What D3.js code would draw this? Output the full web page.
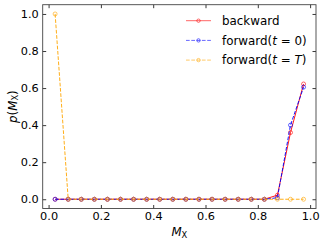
<!DOCTYPE html>
<meta charset="utf-8">
<style>
  body { margin: 0; background: #fff; }
  text { font-family: "DejaVu Sans", sans-serif; fill: #000; }
</style>
<svg width="324" height="243"></svg>
<script src="https://cdn.jsdelivr.net/npm/d3@7/dist/d3.min.js"></script>
<script>
const xs = [0.025, 0.075, 0.125, 0.175, 0.225, 0.275, 0.325, 0.375, 0.425, 0.475,
            0.525, 0.575, 0.625, 0.675, 0.725, 0.775, 0.825, 0.875, 0.925, 0.975];
const backward = [0, 0, 0, 0, 0, 0, 0, 0, 0, 0, 0, 0, 0, 0, 0, 0, 0, 0.022, 0.36, 0.622];
const forward0 = [0, 0, 0, 0, 0, 0, 0, 0, 0, 0, 0, 0, 0, 0, 0, 0, 0, 0.008, 0.40, 0.605];
const forwardT = [1, 0, 0, 0, 0, 0, 0, 0, 0, 0, 0, 0, 0, 0, 0, 0, 0, 0, 0, 0];
const xTicks = [0, 0.2, 0.4, 0.6, 0.8, 1.0];
const yTicks = [0, 0.2, 0.4, 0.6, 0.8, 1.0];

const series = [
  { name: "backward", vals: backward, color: "#ff0000", dash: null },
  { name: "forward0", vals: forward0, color: "#0000ff", dash: "3.7,1.6" },
  { name: "forwardT", vals: forwardT, color: "#ffa500", dash: "3.7,1.6" }
];

const svg = d3.select("svg");
const mLeft = 42.7, mRight = 316, mTop = 4.7, mBottom = 208.5;

const x = d3.scaleLinear().domain([-0.0225, 1.0225]).range([mLeft, mRight]);
const y = d3.scaleLinear().domain([-0.05, 1.05]).range([mBottom, mTop]);

const fs = 11.3;

// axes with inward ticks on all sides
svg.append("g").attr("transform", `translate(0,${mBottom})`)
  .call(d3.axisBottom(x).tickValues(xTicks).tickFormat(d3.format(".1f")).tickSizeInner(-3.5).tickSizeOuter(0).tickPadding(3))
  .call(g => g.select(".domain").remove());
svg.append("g").attr("transform", `translate(0,${mTop})`)
  .call(d3.axisTop(x).tickValues(xTicks).tickFormat("").tickSizeInner(-3.5).tickSizeOuter(0))
  .call(g => g.select(".domain").remove());
svg.append("g").attr("transform", `translate(${mLeft},0)`)
  .call(d3.axisLeft(y).tickValues(yTicks).tickFormat(d3.format(".1f")).tickSizeInner(-3.5).tickSizeOuter(0).tickPadding(4))
  .call(g => g.select(".domain").remove());
svg.append("g").attr("transform", `translate(${mRight},0)`)
  .call(d3.axisRight(y).tickValues(yTicks).tickFormat("").tickSizeInner(-3.5).tickSizeOuter(0))
  .call(g => g.select(".domain").remove());

svg.selectAll(".tick text").attr("font-size", fs).attr("font-family", "DejaVu Sans").attr("fill", "#222");
svg.selectAll(".tick line").attr("stroke", "#222").attr("stroke-width", 0.9);

svg.append("rect")
  .attr("x", mLeft).attr("y", mTop)
  .attr("width", mRight - mLeft).attr("height", mBottom - mTop)
  .attr("fill", "none").attr("stroke", "#444").attr("stroke-width", 0.9);

// lines and markers
const line = d3.line().x((d, i) => x(xs[i])).y(d => y(d));
series.forEach(s => {
  const g = svg.append("g");
  g.append("path")
    .datum(s.vals)
    .attr("d", line)
    .attr("fill", "none")
    .attr("stroke", s.color)
    .attr("stroke-width", 1)
    .attr("stroke-opacity", 0.9)
    .attr("stroke-dasharray", s.dash);
  g.selectAll("circle")
    .data(s.vals)
    .enter().append("circle")
    .attr("cx", (d, i) => x(xs[i]))
    .attr("cy", d => y(d))
    .attr("r", 2)
    .attr("fill", "none")
    .attr("stroke", s.color)
    .attr("stroke-width", 0.8)
    .attr("stroke-opacity", 0.75);
});

// legend
const legend = svg.append("g");
const labels = [
  t => t.text("backward"),
  t => { t.append("tspan").text("forward("); t.append("tspan").attr("font-style", "italic").text("t"); t.append("tspan").text(" = 0)"); },
  t => { t.append("tspan").text("forward("); t.append("tspan").attr("font-style", "italic").text("t"); t.append("tspan").text(" = "); t.append("tspan").attr("font-style", "italic").text("T"); t.append("tspan").text(")"); }
];
series.forEach((s, i) => {
  const ly = 20.7 + i * 19.7;
  legend.append("line")
    .attr("x1", 186).attr("x2", 211).attr("y1", ly).attr("y2", ly)
    .attr("stroke", s.color).attr("stroke-width", 1).attr("stroke-opacity", 0.6)
    .attr("stroke-dasharray", s.dash);
  legend.append("circle")
    .attr("cx", 198.5).attr("cy", ly).attr("r", 1.7)
    .attr("fill", "none").attr("stroke", s.color).attr("stroke-width", 0.8).attr("stroke-opacity", 0.7);
  const t = legend.append("text")
    .attr("x", 222).attr("y", ly + 4.2)
    .attr("font-size", 11.9);
  labels[i](t);
});

// axis labels
const xl = svg.append("text")
  .attr("x", (mLeft + mRight) / 2).attr("y", 236)
  .attr("text-anchor", "middle").attr("font-size", 11.8);
xl.append("tspan").attr("font-style", "italic").text("M");
xl.append("tspan").attr("font-size", 8.3).attr("dy", 1.8).text("X");

const yl = svg.append("text")
  .attr("transform", `translate(16.5,${(mTop + mBottom) / 2}) rotate(-90)`)
  .attr("text-anchor", "middle").attr("font-size", 11.8);
yl.append("tspan").attr("font-style", "italic").text("p");
yl.append("tspan").text("(");
yl.append("tspan").attr("font-style", "italic").text("M");
yl.append("tspan").attr("font-size", 8.3).attr("dy", 1.8).text("X");
yl.append("tspan").attr("dy", -1.8).text(")");
</script>
